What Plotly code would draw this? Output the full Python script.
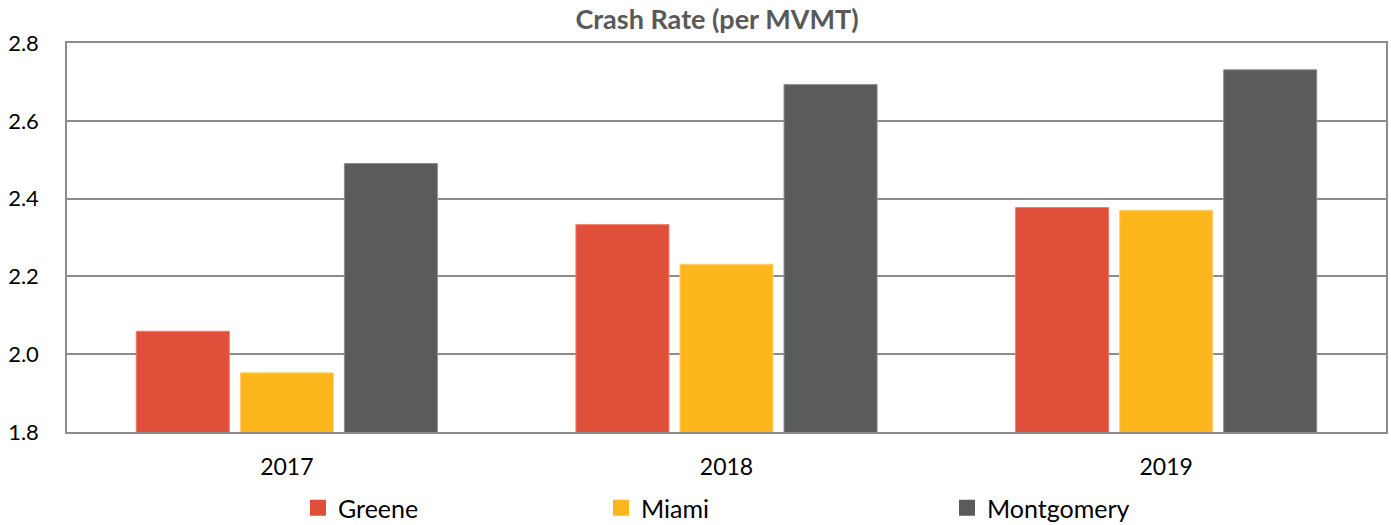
import plotly.graph_objects as go

years = ["2017", "2018", "2019"]
series_names = ["Greene", "Miami", "Montgomery"]
greene = [2.059, 2.333, 2.377]
miami = [1.952, 2.231, 2.370]
montgomery = [2.490, 2.693, 2.731]
y_ticks = [1.8, 2.0, 2.2, 2.4, 2.6, 2.8]
y_tick_text = ["1.8", "2.0", "2.2", "2.4", "2.6", "2.8"]

FONT = "Lato, Open Sans, sans-serif"
colors = ["#E04F39", "#FDB71D", "#5A5B5D"]
edges = ["#EE7B6A", "#FFD070", "#8A8B8D"]
legend_x = [298, 601, 947]

fig = go.Figure()
for name, vals, c, e in zip(series_names, [greene, miami, montgomery], colors, edges):
    fig.add_trace(go.Bar(name=name, x=years, y=vals, showlegend=False,
                         marker=dict(color=c, line=dict(color=e, width=1))))

for i, (name, c) in enumerate(zip(series_names, colors)):
    lg = "legend" if i == 0 else f"legend{i+1}"
    fig.add_trace(go.Scatter(name=name, x=[None], y=[None], mode="markers",
                             marker=dict(symbol="square", size=16, color=c),
                             legend=lg, showlegend=True))

leg_common = dict(orientation="h", xref="container", yref="container",
                  xanchor="left", yanchor="middle", y=1 - 508/525,
                  font=dict(family=FONT, size=25, color="#000000"),
                  bgcolor="rgba(0,0,0,0)", itemwidth=30)

fig.update_layout(
    width=1391, height=525,
    paper_bgcolor="white", plot_bgcolor="white",
    margin=dict(l=67, r=5, t=43, b=93, autoexpand=False),
    barmode="group", bargap=0.29, bargroupgap=0.106,
    font=dict(family=FONT, size=21, color="#000000"),
    title=dict(text="<b>Crash Rate (per MVMT)</b>", x=717/1391, xanchor="center",
               xref="container", yref="container",
               y=1 - 20/525, yanchor="middle",
               font=dict(family=FONT, size=27, color="#595959")),
    legend=dict(x=legend_x[0]/1391, **leg_common),
    legend2=dict(x=legend_x[1]/1391, **leg_common),
    legend3=dict(x=legend_x[2]/1391, **leg_common),
    showlegend=True,
)
fig.update_yaxes(range=[1.8, 2.8], tickvals=y_ticks, ticktext=y_tick_text,
                 showgrid=True, gridcolor="#8C8C8C", gridwidth=1.5,
                 showline=True, linecolor="#8C8C8C", linewidth=1.5, mirror=True,
                 ticks="", ticklabelstandoff=22, zeroline=False, automargin=False,
                 tickfont=dict(family=FONT, size=22, color="#000000"))
fig.update_xaxes(showline=True, linecolor="#8C8C8C", linewidth=1.5, mirror=True,
                 ticks="", ticklabelstandoff=14, automargin=False,
                 tickfont=dict(family=FONT, size=23, color="#000000"))

fig.write_html("out.html", config={"displayModeBar": False},
               post_script="document.body.style.margin='0';document.body.style.padding='0';document.body.style.overflow='hidden';")
